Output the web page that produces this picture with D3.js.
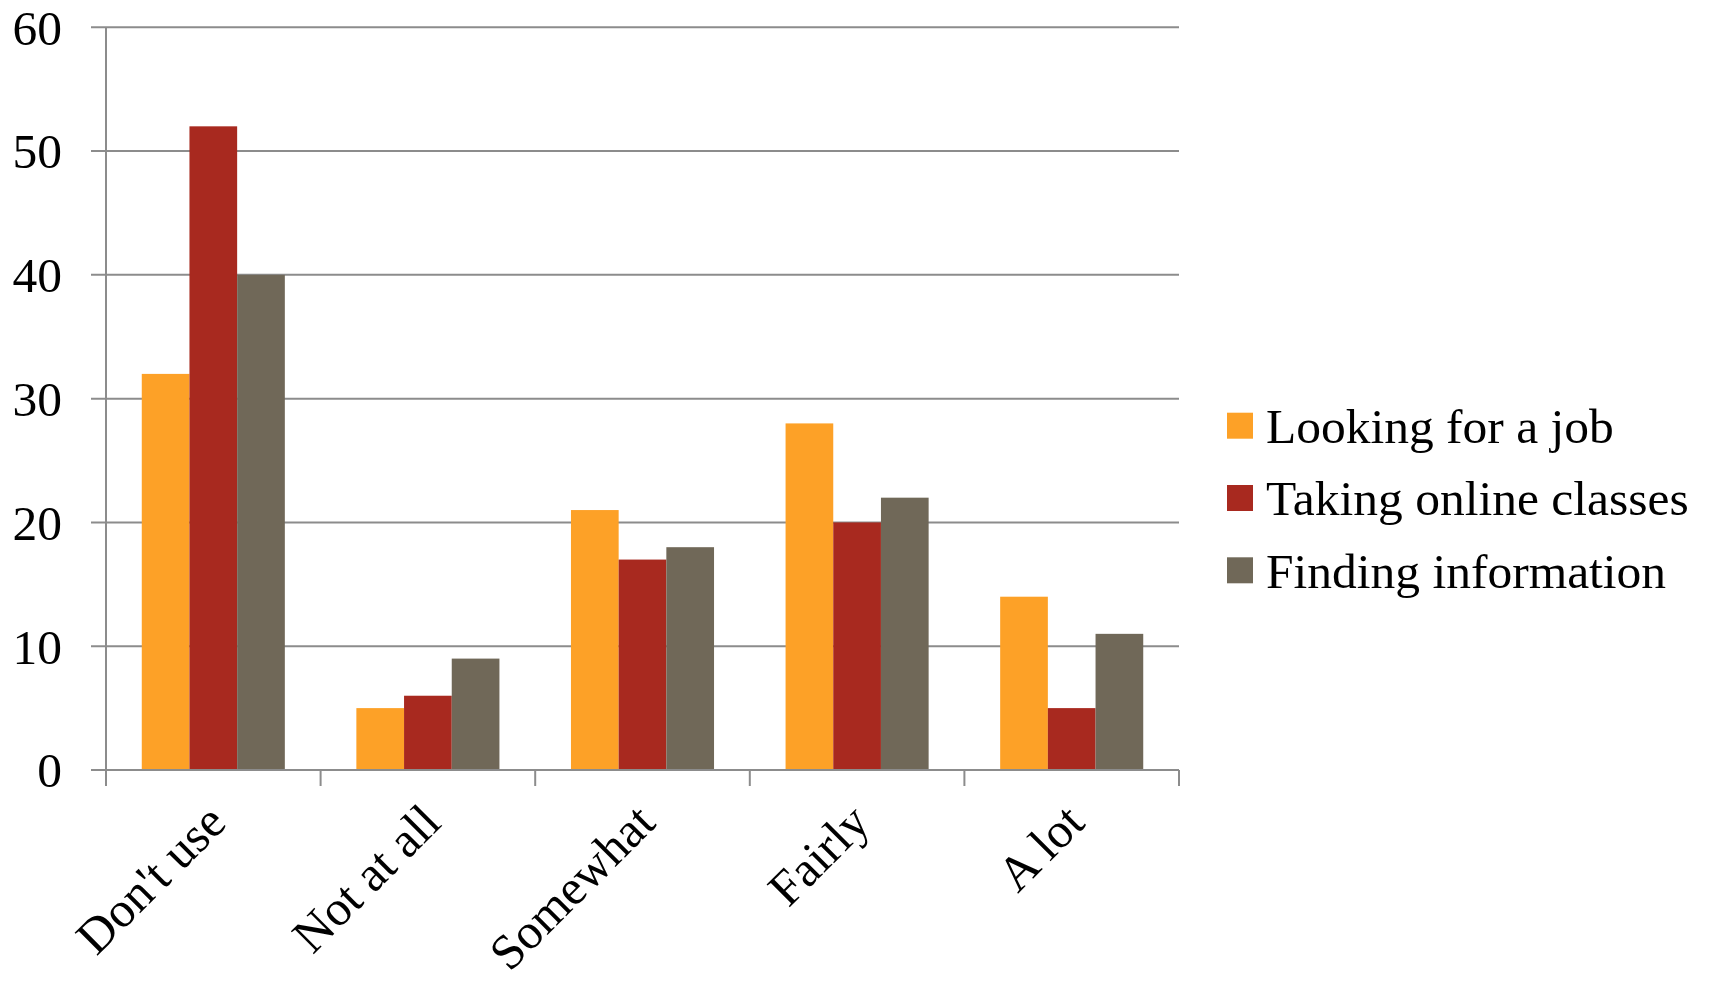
<!DOCTYPE html>
<html><head><meta charset="utf-8">
<script src="https://cdn.jsdelivr.net/npm/d3@7"></script>
<style>body{margin:0;background:#fff}svg{display:block}text{font-family:"Liberation Serif","Times New Roman",serif;fill:#000}</style>
</head><body>
<svg id="c" width="1713" height="984"></svg>
<script>
const categories = ["Don't use", "Not at all", "Somewhat", "Fairly", "A lot"];
const seriesNames = ["Looking for a job", "Taking online classes", "Finding information"];
const lookingForJob = [32, 5, 21, 28, 14];
const onlineClasses = [52, 6, 17, 20, 5];
const findingInfo = [40, 9, 18, 22, 11];
const yTicks = [0, 10, 20, 30, 40, 50, 60];
const colors = ["#FDA127", "#A8291F", "#706858"];

(function () {
const seriesValues = [lookingForJob, onlineClasses, findingInfo];
const svg = d3.select("#c");
const pLeft = 106, pRight = 1179, pTop = 27.3, pBottom = 770;
const fs = 49.5;
const grid = "#8c8c8c";

const x0 = d3.scaleBand().domain(categories).range([pLeft, pRight]).padding(0);
const x1 = d3.scaleBand().domain(seriesNames).range([0, x0.bandwidth()]).paddingInner(0).paddingOuter(0.75);
const y = d3.scaleLinear().domain([0, 60]).range([pBottom, pTop]);

svg.append("g").selectAll("line").data(yTicks).join("line")
  .attr("x1", pLeft - 15).attr("x2", pRight)
  .attr("y1", d => y(d)).attr("y2", d => y(d))
  .attr("stroke", grid).attr("stroke-width", 2);

svg.append("line").attr("x1", pLeft).attr("x2", pLeft).attr("y1", y(60)).attr("y2", pBottom + 16)
  .attr("stroke", grid).attr("stroke-width", 2);

const bounds = categories.map(c => x0(c)).concat([pRight]);
svg.append("g").selectAll("line").data(bounds).join("line")
  .attr("x1", d => d).attr("x2", d => d).attr("y1", pBottom).attr("y2", pBottom + 16)
  .attr("stroke", grid).attr("stroke-width", 2);

seriesNames.forEach((s, si) => {
  svg.append("g").selectAll("rect").data(categories).join("rect")
    .attr("x", c => x0(c) + x1(s))
    .attr("width", x1.bandwidth())
    .attr("y", (c, i) => y(seriesValues[si][i]))
    .attr("height", (c, i) => pBottom - y(seriesValues[si][i]))
    .attr("fill", colors[si]);
});

svg.append("line").attr("x1", pLeft - 15).attr("x2", pRight).attr("y1", pBottom).attr("y2", pBottom)
  .attr("stroke", grid).attr("stroke-width", 2);

svg.append("g").selectAll("text").data(yTicks).join("text")
  .attr("x", 62).attr("y", d => y(d)).attr("dy", "0.35em")
  .attr("text-anchor", "end").attr("font-size", fs).text(d => d);

svg.append("g").selectAll("text").data(categories).join("text")
  .attr("transform", c => `translate(${x0(c) + x0.bandwidth() / 2 + 15},${825}) rotate(-45)`)
  .attr("text-anchor", "end").attr("font-size", fs).text(c => c);

const legY = [425.7, 498, 570.3];
const leg = svg.append("g");
seriesNames.forEach((s, i) => {
  leg.append("rect").attr("x", 1227).attr("y", legY[i] - 13).attr("width", 26).attr("height", 26).attr("fill", colors[i]);
  leg.append("text").attr("x", 1266).attr("y", legY[i]).attr("dy", "0.35em").attr("font-size", fs).text(s);
});
})();
</script>
</body></html>
